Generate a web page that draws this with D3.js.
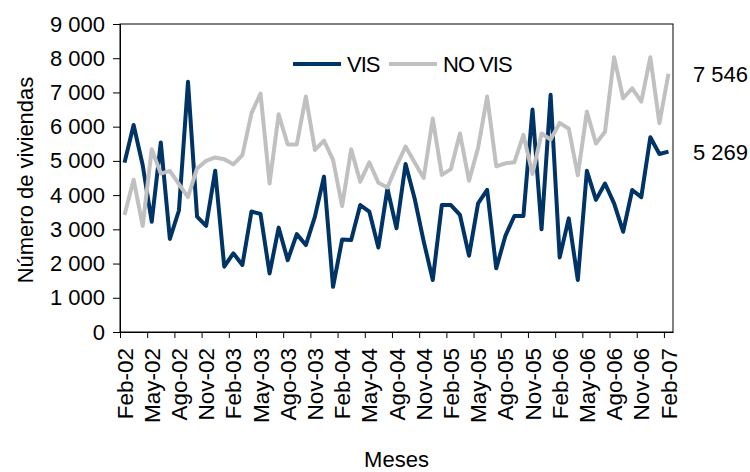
<!DOCTYPE html>
<html>
<head>
<meta charset="utf-8">
<script src="https://cdn.jsdelivr.net/npm/d3@7"></script>
<style>
body { margin: 0; background: #fff; }
svg { display: block; font-family: "Liberation Sans", Arial, sans-serif; }
</style>
</head>
<body>
<div class="canvas"></div>
<script>
// categories (monthly, Feb-02 .. Feb-07)
var months = ["Feb-02","Mar-02","Abr-02","May-02","Jun-02","Jul-02","Ago-02","Sep-02","Oct-02","Nov-02","Dic-02","Ene-03",
	"Feb-03","Mar-03","Abr-03","May-03","Jun-03","Jul-03","Ago-03","Sep-03","Oct-03","Nov-03","Dic-03","Ene-04",
	"Feb-04","Mar-04","Abr-04","May-04","Jun-04","Jul-04","Ago-04","Sep-04","Oct-04","Nov-04","Dic-04","Ene-05",
	"Feb-05","Mar-05","Abr-05","May-05","Jun-05","Jul-05","Ago-05","Sep-05","Oct-05","Nov-05","Dic-05","Ene-06",
	"Feb-06","Mar-06","Abr-06","May-06","Jun-06","Jul-06","Ago-06","Sep-06","Oct-06","Nov-06","Dic-06","Ene-07",
	"Feb-07"];

var vis = [4950,6050,4880,3220,5540,2720,3550,7310,3370,3100,4710,1910,
	2300,1960,3520,3450,1710,3050,2100,2860,2540,3370,4540,1320,
	2700,2690,3710,3520,2470,4190,3030,4910,3900,2650,1520,3710,
	3710,3420,2230,3760,4150,1860,2800,3390,3390,6500,3000,6930,
	2180,3320,1520,4710,3860,4340,3760,2930,4150,3940,5690,5200,
	5269];

var novis = [3420,4450,3100,5340,4630,4710,4320,3940,4780,5000,5100,5050,
	4900,5170,6390,6970,4340,6360,5480,5480,6880,5320,5590,5030,
	3680,5340,4390,4960,4360,4220,4850,5420,4950,4500,6240,4590,
	4760,5800,4420,5380,6880,4840,4930,4960,5760,4620,5800,5620,
	6110,5940,4580,6440,5510,5850,8030,6830,7120,6730,8030,6100,
	7546];

var seriesNames = ["VIS", "NO VIS"];
var seriesColors = ["#003366", "#c0c0c0"];
var yTicks = [0,1000,2000,3000,4000,5000,6000,7000,8000,9000];
var endLabels = ["5 269", "7 546"];

var fig_width = 750, fig_height = 472;
var plotLeft = 120, plotRight = 673, plotTop = 24, plotBottom = 332;
var fontSize = "22px";

var svg = d3.select("body div.canvas").append("svg")
	.attr("width", fig_width)
	.attr("height", fig_height);

var x = d3.scaleBand().domain(d3.range(months.length)).range([plotLeft, plotRight]).padding(0);
var xb = d3.scaleLinear().domain([0, months.length]).range([plotLeft, plotRight]);
var y = d3.scaleLinear().domain([0, 9000]).range([plotBottom, plotTop]);

function fmt(v) { return d3.format(",")(v).replace(/,/g, " "); }

// plot frame
svg.append("rect")
	.attr("x", plotLeft).attr("y", plotTop)
	.attr("width", plotRight - plotLeft).attr("height", plotBottom - plotTop)
	.attr("fill", "none").attr("stroke", "#000").attr("stroke-width", 1);

// y axis
var yAxis = svg.append("g")
	.attr("transform", "translate(" + plotLeft + ",0)")
	.call(d3.axisLeft(y).tickValues(yTicks).tickFormat(fmt).tickSize(7).tickPadding(8));
yAxis.selectAll("text").style("font-size", fontSize).attr("fill", "#000");
yAxis.selectAll("line,path").attr("stroke", "#000");

// x axis tick marks (between categories)
var xTickAxis = svg.append("g")
	.attr("transform", "translate(0," + plotBottom + ")")
	.call(d3.axisBottom(xb).tickValues(d3.range(0, months.length, 3)).tickFormat("").tickSize(6).tickSizeOuter(0));
xTickAxis.selectAll("line,path").attr("stroke", "#000");

// x axis labels (every 3rd month)
var xLab = svg.append("g")
	.attr("transform", "translate(0," + plotBottom + ")")
	.call(d3.axisBottom(x).tickValues(d3.range(0, months.length, 3)).tickFormat(function(i) { return months[i]; }).tickSize(0));
xLab.select(".domain").remove();
xLab.selectAll("text")
	.attr("transform", "rotate(-90)")
	.attr("x", -16).attr("y", 0).attr("dy", "0.36em")
	.style("text-anchor", "end")
	.style("font-size", "22.5px")
	.attr("fill", "#000");

// axis titles
svg.append("text")
	.attr("transform", "translate(33," + ((plotTop + plotBottom) / 2 + 2) + ") rotate(-90)")
	.style("text-anchor", "middle")
	.style("font-size", fontSize)
	.text("Número de viviendas");
svg.append("text")
	.attr("x", (plotLeft + plotRight) / 2).attr("y", 467)
	.style("text-anchor", "middle")
	.style("font-size", fontSize)
	.text("Meses");

// lines
var line = d3.line()
	.x(function(d, i) { return x(i) + x.bandwidth() / 2; })
	.y(function(d) { return y(d); });

[vis, novis].forEach(function(s, k) {
	svg.append("path")
		.datum(s)
		.attr("d", line)
		.attr("fill", "none")
		.attr("stroke", seriesColors[k])
		.attr("stroke-width", 4)
		.attr("stroke-linejoin", "round");
});

// end labels
[vis, novis].forEach(function(s, k) {
	svg.append("text")
		.attr("x", 693)
		.attr("y", y(s[s.length - 1]))
		.attr("dy", "0.36em")
		.style("font-size", fontSize)
		.text(endLabels[k]);
});

// legend
var legX = [293, 389];
seriesNames.forEach(function(n, k) {
	svg.append("line")
		.attr("x1", legX[k]).attr("x2", legX[k] + 48)
		.attr("y1", 64).attr("y2", 64)
		.attr("stroke", seriesColors[k]).attr("stroke-width", 4);
	svg.append("text")
		.attr("x", legX[k] + 54).attr("y", 64).attr("dy", "0.36em")
		.style("font-size", fontSize)
		.style("letter-spacing", "-1px")
		.text(n);
});
</script>
</body>
</html>
